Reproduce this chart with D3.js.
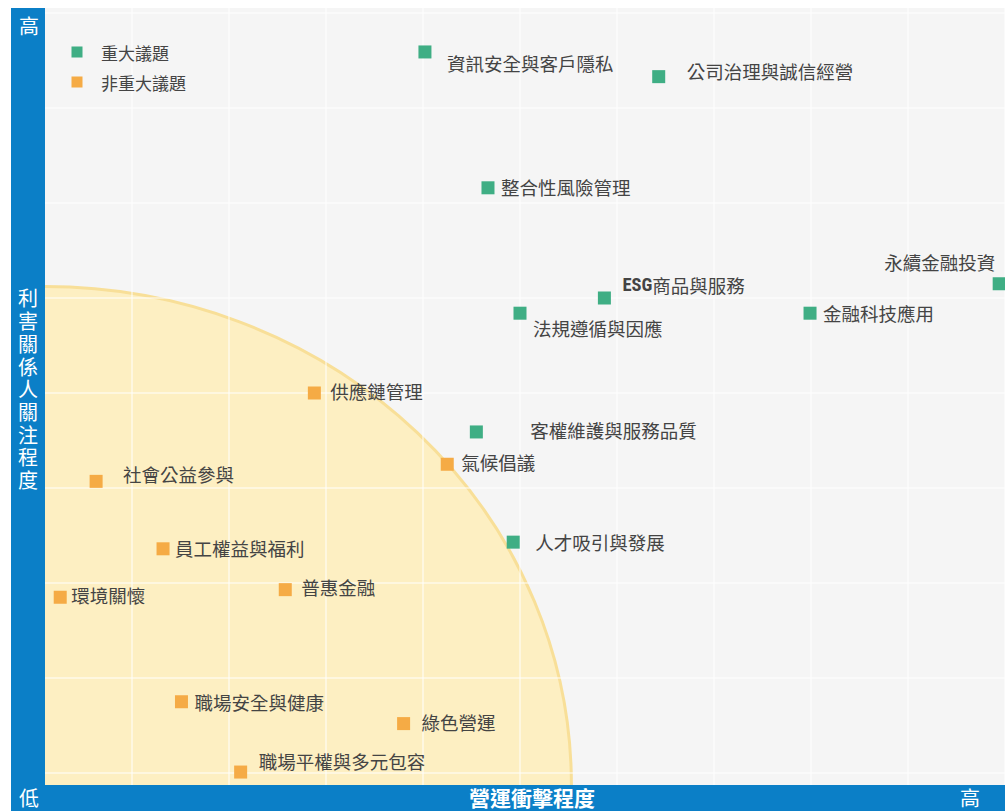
<!DOCTYPE html>
<html>
<head>
<meta charset="utf-8">
<script src="https://cdn.jsdelivr.net/npm/d3@7"></script>
<style>
  body { margin: 0; background: #fff; }
  svg { display: block; font-family: "Noto Sans CJK TC", "Noto Sans", sans-serif; }
  .label { fill: #444; font-size: 18.5px; }
  .axis-text { fill: #fff; }
</style>
</head>
<body>
<div id="chart"></div>
<script>
// ---- data ----
var topics = ['資訊安全與客戶隱私', '公司治理與誠信經營', '整合性風險管理', 'ESG商品與服務', '永續金融投資',
  '法規遵循與因應', '金融科技應用', '供應鏈管理', '客權維護與服務品質', '氣候倡議',
  '社會公益參與', '人才吸引與發展', '員工權益與福利', '環境關懷', '普惠金融',
  '職場安全與健康', '綠色營運', '職場平權與多元包容'];
var impact =  [4.02, 6.43, 4.67, 5.87, 9.94, 5.00, 7.99, 2.88, 4.55, 4.25, 0.63, 4.93, 1.32, 0.26, 2.58, 1.51, 3.80, 2.12];
var concern = [7.59, 7.33, 6.16, 5.00, 5.15, 4.84, 4.84, 4.00, 3.59, 3.25, 3.07, 2.43, 2.36, 1.85, 1.93, 0.75, 0.52, 0.01];
var material = [true, true, true, true, true, true, true, false, true, false, false, true, false, false, false, false, false, false];
var legendLabels = ['重大議題', '非重大議題'];
var zoneExtent = [5.53, 5.12]; // non-material zone reach on each axis

// label placement relative to marker [dx, dy]
var labelOffset = [[22, 11], [28, -6], [13, -1], [18, -13], [-4, -22], [13, 15], [13, 0], [16, -2], [54, -2],
  [14, -2], [27, -7], [22, 0], [12, -1], [11, -2], [16, -3], [13, 0], [18, -2], [18, -11]];

var width = 1005, height = 811;
var plot = {left: 45, right: 1005, top: 8, bottom: 785};
var colors = {major: '#3fae84', minor: '#f5ab45', blue: '#0b7fc7', bg: '#f5f5f5'};

var svg = d3.select('#chart').append('svg')
  .attr('width', width)
  .attr('height', height);

var x = d3.scaleLinear().domain([0, 10]).range([35, 1005]);
var y = d3.scaleLinear().domain([0, 8]).range([773, 13]);

svg.append('defs').append('clipPath').attr('id', 'plot-clip')
  .append('rect')
  .attr('x', plot.left).attr('y', plot.top)
  .attr('width', plot.right - plot.left).attr('height', plot.bottom - plot.top);

// background
svg.append('rect')
  .attr('x', plot.left).attr('y', plot.top)
  .attr('width', plot.right - plot.left).attr('height', plot.bottom - plot.top)
  .attr('fill', colors.bg);

var g = svg.append('g').attr('clip-path', 'url(#plot-clip)');

// yellow zone
g.append('ellipse')
  .attr('cx', plot.left)
  .attr('cy', plot.bottom)
  .attr('rx', x(zoneExtent[0]) - plot.left)
  .attr('ry', plot.bottom - y(zoneExtent[1]))
  .attr('fill', '#fdefc2')
  .attr('stroke', '#f8df98')
  .attr('stroke-width', 3);

// grid
g.append('g').selectAll('line')
  .data(d3.range(0, 11))
  .join('line')
  .attr('x1', d => x(d)).attr('x2', d => x(d))
  .attr('y1', plot.top).attr('y2', plot.bottom)
  .attr('stroke', '#fff').attr('stroke-opacity', 0.65).attr('stroke-width', 1.5);

g.append('g').selectAll('line')
  .data(d3.range(0, 9))
  .join('line')
  .attr('x1', plot.left).attr('x2', plot.right)
  .attr('y1', d => y(d)).attr('y2', d => y(d))
  .attr('stroke', '#fff').attr('stroke-opacity', 0.65).attr('stroke-width', 1.5);

// markers
var ms = 13;
g.append('g').selectAll('rect')
  .data(topics)
  .join('rect')
  .attr('x', (d, i) => x(impact[i]) - ms / 2)
  .attr('y', (d, i) => y(concern[i]) - ms / 2)
  .attr('width', ms).attr('height', ms)
  .attr('fill', (d, i) => material[i] ? colors.major : colors.minor);

// labels
var labels = svg.append('g').selectAll('text')
  .data(topics)
  .join('text')
  .attr('class', 'label')
  .attr('x', (d, i) => x(impact[i]) + labelOffset[i][0])
  .attr('y', (d, i) => y(concern[i]) + labelOffset[i][1])
  .attr('dominant-baseline', 'central')
  .attr('text-anchor', (d, i) => labelOffset[i][0] < 0 ? 'end' : 'start');

labels.each(function(d){
  var t = d3.select(this);
  if(d.indexOf('ESG') === 0){
    t.append('tspan').attr('font-weight', 'bold').attr('font-family', 'Roboto Condensed, Roboto, sans-serif').text('ESG');
    t.append('tspan').text(d.slice(3));
  }
  else t.text(d);
});

// legend
var legend = svg.append('g').selectAll('g')
  .data(legendLabels)
  .join('g')
  .attr('transform', (d, i) => 'translate(77,' + (52 + i * 30) + ')');

legend.append('rect')
  .attr('x', -5.5).attr('y', -5.5).attr('width', 11).attr('height', 11)
  .attr('fill', (d, i) => i === 0 ? colors.major : colors.minor);

legend.append('text')
  .attr('x', 24).attr('dominant-baseline', 'central')
  .attr('fill', '#444').attr('font-size', '17px')
  .text(d => d);

// axis bars
svg.append('rect')
  .attr('x', 11).attr('y', plot.top)
  .attr('width', plot.left - 11).attr('height', height - plot.top)
  .attr('fill', colors.blue);

svg.append('rect')
  .attr('x', 11).attr('y', plot.bottom)
  .attr('width', width - 11).attr('height', height - plot.bottom)
  .attr('fill', colors.blue);

// axis texts
svg.append('text').attr('class', 'axis-text')
  .attr('x', 29).attr('y', 25).attr('text-anchor', 'middle').attr('dominant-baseline', 'central')
  .attr('font-size', '20px').text('高');

svg.append('text').attr('class', 'axis-text')
  .attr('x', 29).attr('y', 797).attr('text-anchor', 'middle').attr('dominant-baseline', 'central')
  .attr('font-size', '20px').text('低');

svg.append('text').attr('class', 'axis-text')
  .attr('x', 970).attr('y', 797).attr('text-anchor', 'middle').attr('dominant-baseline', 'central')
  .attr('font-size', '20px').text('高');

svg.append('text').attr('class', 'axis-text')
  .attr('x', 532).attr('y', 797).attr('text-anchor', 'middle').attr('dominant-baseline', 'central')
  .attr('font-size', '21px').attr('font-weight', 'bold').text('營運衝擊程度');

// vertical axis title
svg.append('text')
  .attr('class', 'axis-text')
  .attr('x', 28).attr('y', 391)
  .attr('text-anchor', 'middle')
  .style('writing-mode', 'vertical-rl')
  .style('letter-spacing', '2.7px')
  .attr('font-size', '20px')
  .text('利害關係人關注程度');
</script>
</body>
</html>
